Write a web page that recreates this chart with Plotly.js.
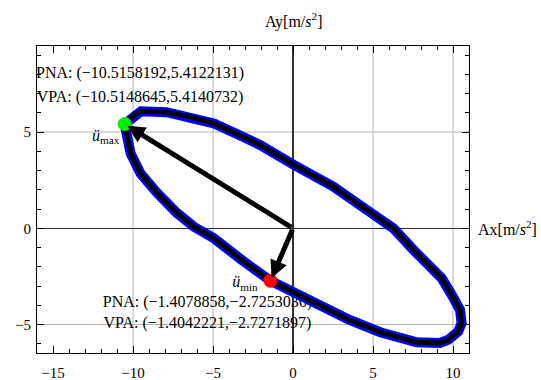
<!DOCTYPE html>
<html>
<head>
<meta charset="utf-8">
<script src="https://cdn.plot.ly/plotly-3.0.1.min.js"></script>
<style>html,body{margin:0;padding:0;background:#fff;}#chart{width:541px;height:380px;}</style>
</head>
<body>
<div id="chart"></div>
<script>
// Trajectory of the acceleration vector
const curveX = [-10.52, -9.94, -9.5, -7.9, -6.5, -4.95, -3.5, -2.04, 0.04, 2.53, 4.62, 6.28, 7.5, 8.15, 9.29, 9.92, 10.44, 10.54, 10.33, 9.71, 9.19, 7.73, 5.45, 3.5, 1.5, 0.0, -1.41, -3.2, -4.95, -6.2, -7.24, -8.48, -9.53, -10.15, -10.36, -10.52];
const curveY = [5.41, 5.88, 6.08, 6.03, 5.8, 5.45, 4.9, 4.32, 3.3, 2.16, 0.95, 0.0, -1.1, -1.64, -2.59, -3.46, -4.24, -4.93, -5.36, -5.79, -5.96, -5.92, -5.4, -4.75, -3.95, -3.3, -2.73, -1.65, -0.52, 0.08, 0.78, 1.82, 2.85, 3.89, 4.84, 5.41];

// extreme points
const maxPoint = [-10.5158192, 5.4122131];
const minPoint = [-1.4078858, -2.7253036];
const origin = [0, 0];

// text labels
const labelText = [
  'PNA: (−10.5158192,5.4122131)',
  'VPA: (−10.5148645,5.4140732)',
  'PNA: (−1.4078858,−2.7253036)',
  'VPA: (−1.4042221,−2.7271897)',
  '<i>ü</i><sub>max</sub>',
  '<i>ü</i><sub>min</sub>'
];
const labelX = [-9.56, -9.56, -5.35, -5.35, -11.71, -3.0];
const labelY = [8.0, 6.75, -3.87, -4.96, 4.74, -2.86];

// axes
const xRange = [-16, 11];
const yRange = [-6.48, 9.47];
const xTickVals = [-15, -10, -5, 0, 5, 10];
const yTickVals = [-5, 0, 5];
const xGrid = [-10, -5, 5, 10];
const yGrid = [-5, 5];

const font = 'Liberation Serif';

const traces = [
  {x: labelX, y: labelY, text: labelText, mode: 'text', type: 'scatter',
   textfont: {family: font, size: 16, color: '#000'}, textposition: 'middle center',
   hoverinfo: 'none', showlegend: false, cliponaxis: false},
  {x: curveX, y: curveY, mode: 'lines', type: 'scatter',
   line: {color: '#0000ff', width: 10}, showlegend: false},
  {x: curveX, y: curveY, mode: 'lines', type: 'scatter',
   line: {color: '#000000', width: 5}, showlegend: false},
  {x: [maxPoint[0]], y: [maxPoint[1]], mode: 'markers', type: 'scatter',
   marker: {color: '#00f000', size: 14}, showlegend: false},
  {x: [minPoint[0]], y: [minPoint[1]], mode: 'markers', type: 'scatter',
   marker: {color: '#ff0000', size: 14}, showlegend: false}
];

const shapes = [];
xGrid.forEach(v => shapes.push({type: 'line', xref: 'x', yref: 'paper', x0: v, x1: v, y0: 0, y1: 1,
  line: {color: '#b4b4b4', width: 1}, layer: 'below'}));
yGrid.forEach(v => shapes.push({type: 'line', xref: 'paper', yref: 'y', x0: 0, x1: 1, y0: v, y1: v,
  line: {color: '#b4b4b4', width: 1}, layer: 'below'}));

const arrowCommon = {xref: 'x', yref: 'y', axref: 'x', ayref: 'y', ax: origin[0], ay: origin[1],
  text: '', showarrow: true, arrowhead: 2, arrowsize: 0.7, arrowwidth: 5, arrowcolor: '#000', standoff: 3};

const annotations = [
  Object.assign({x: maxPoint[0], y: maxPoint[1]}, arrowCommon),
  Object.assign({x: minPoint[0], y: minPoint[1]}, arrowCommon),
  {text: 'Ay[m/<i>s</i><sup>2</sup>]', xref: 'x', yref: 'paper', x: 0, y: 1, yshift: 26,
   xanchor: 'center', yanchor: 'middle', showarrow: false, font: {family: font, size: 16, color: '#000'}},
  {text: 'Ax[m/<i>s</i><sup>2</sup>]', xref: 'paper', yref: 'y', x: 1, y: 0, xshift: 7,
   xanchor: 'left', yanchor: 'middle', showarrow: false, font: {family: font, size: 16, color: '#000'}}
];

const axisCommon = {
  showgrid: false, zeroline: true, zerolinecolor: '#333', zerolinewidth: 1.2,
  showline: true, linecolor: '#000', linewidth: 1, mirror: 'ticks',
  ticks: 'inside', ticklen: 7, tickcolor: '#000', tickwidth: 1,
  tickfont: {family: font, size: 15, color: '#000'},
  minor: {dtick: 1, ticks: 'inside', ticklen: 4, tickcolor: '#000', tickwidth: 1, showgrid: false},
  fixedrange: true
};

const layout = {
  width: 541, height: 380,
  margin: {l: 37, r: 72, t: 46, b: 27},
  paper_bgcolor: '#fff', plot_bgcolor: '#fff',
  showlegend: false,
  font: {family: font},
  xaxis: Object.assign({}, axisCommon, {range: xRange, tickmode: 'array', tickvals: xTickVals, ticklabelstandoff: 6}),
  yaxis: Object.assign({}, axisCommon, {range: yRange, tickmode: 'array', tickvals: yTickVals, ticklabelstandoff: 2}),
  shapes: shapes,
  annotations: annotations
};

Plotly.newPlot('chart', traces, layout, {displayModeBar: false, staticPlot: true});
</script>
</body>
</html>
